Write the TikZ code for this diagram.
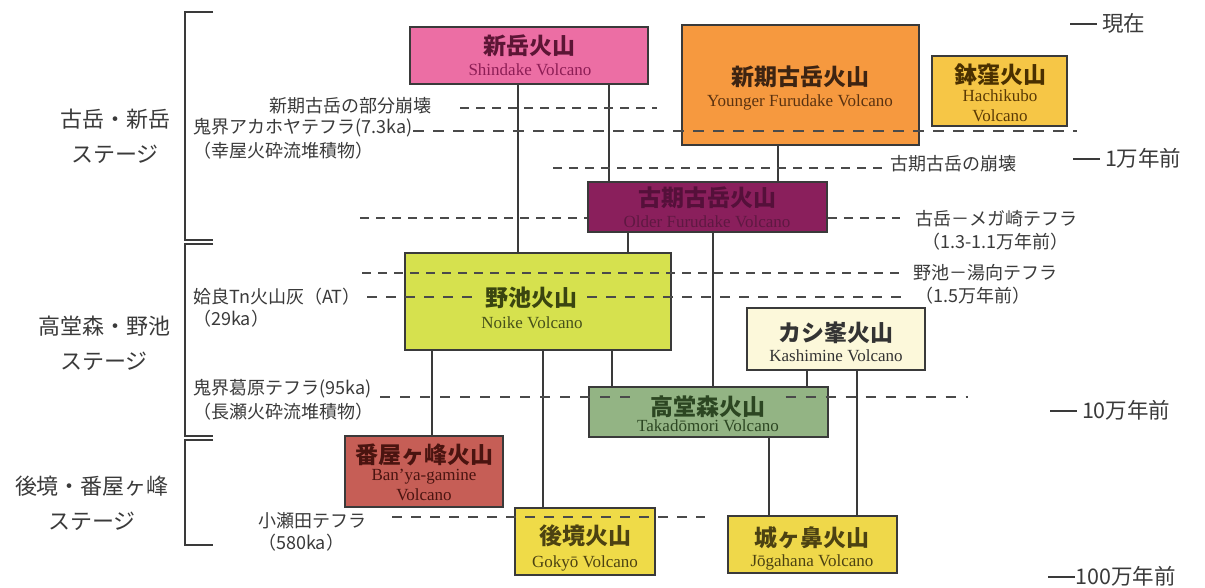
\documentclass[tikz,border=0pt]{standalone}
\usepackage{fontspec}
\setmainfont{Liberation Serif}
\newfontfamily\cjk{Noto Sans CJK JP}
\definecolor{ink}{HTML}{3A3A3A}
\definecolor{dashc}{HTML}{4A4A4A}
\definecolor{cshin}{HTML}{EC6EA4}
\definecolor{cyf}{HTML}{F6993F}
\definecolor{chachi}{HTML}{F6C646}
\definecolor{cof}{HTML}{8A1F5C}
\definecolor{cnoike}{HTML}{D6E14E}
\definecolor{ckashi}{HTML}{FCF8DA}
\definecolor{ctaka}{HTML}{93B484}
\definecolor{cbanya}{HTML}{C65E56}
\definecolor{cgokyo}{HTML}{EFDB48}
\definecolor{cjoga}{HTML}{EFD84A}
\definecolor{tshin}{HTML}{5C1535}
\definecolor{eshin}{HTML}{8D1D55}
\definecolor{tyf}{HTML}{3D2412}
\definecolor{eyf}{HTML}{5A3210}
\definecolor{thachi}{HTML}{4A3000}
\definecolor{ehachi}{HTML}{5A3A05}
\definecolor{tof}{HTML}{55103A}
\definecolor{eof}{HTML}{5F1842}
\definecolor{tnoike}{HTML}{3A4510}
\definecolor{enoike}{HTML}{46501A}
\definecolor{tkashi}{HTML}{333333}
\definecolor{ttaka}{HTML}{2C4622}
\definecolor{tbanya}{HTML}{4A1410}
\definecolor{tyel}{HTML}{4C4212}
\tikzset{
  box/.style={draw=ink, line width=1.5pt, rectangle, inner sep=0pt},
  ttl/.style={font=\cjk\bfseries\fontsize{23}{25}\selectfont, inner sep=0pt},
  en/.style={font=\fontsize{17}{19}\selectfont, inner sep=0pt},
  lab/.style={font=\cjk\fontsize{18}{21}\selectfont, text=ink, inner sep=0pt},
  tl/.style={font=\cjk\fontsize{21.5}{23}\selectfont, text=ink, inner sep=0pt, anchor=west},
  stage/.style={font=\cjk\fontsize{22}{35}\selectfont, text=ink, align=center, inner sep=0pt},
  conn/.style={draw=ink, line width=1.8pt},
  tephra/.style={draw=dashc, line width=1.8pt, dash pattern=on 9pt off 7pt},
  brk/.style={draw=ink, line width=1.6pt},
}
\newcommand\tdash{\rule[0.3em]{27pt}{1.7pt}}
\begin{document}
\begin{tikzpicture}[x=1pt,y=-1pt]
\fill[white] (0,0) rectangle (1205,587);
\useasboundingbox (0,0) rectangle (1205,587);

% stage brackets
\draw[brk] (213,12) -- (185,12) -- (185,240) -- (213,240);
\draw[brk] (213,244) -- (185,244) -- (185,436) -- (213,436);
\draw[brk] (213,440) -- (185,440) -- (185,545) -- (213,545);

% stage labels
\node[stage] (s1) at (115,136) {古岳・新岳\\ステージ};
\node[stage] (s2) at (104,343) {高堂森・野池\\ステージ};
\node[stage] (s3) at (92,503) {後境・番屋ヶ峰\\ステージ};

% boxes
\node[box, fill=cshin, minimum width=238pt, minimum height=57pt] (shin) at (529,55.5) {};
\node[box, fill=cyf, minimum width=237pt, minimum height=120pt] (yf) at (800.5,85) {};
\node[box, fill=chachi, minimum width=135pt, minimum height=70pt] (hachi) at (999.5,91) {};
\node[box, fill=cof, minimum width=239pt, minimum height=50pt] (of) at (707.5,207) {};
\node[box, fill=cnoike, minimum width=266pt, minimum height=97pt] (noike) at (538,301.5) {};
\node[box, fill=ckashi, minimum width=178pt, minimum height=62pt] (kashi) at (836,339) {};
\node[box, fill=ctaka, minimum width=239pt, minimum height=50pt] (taka) at (708.5,412) {};
\node[box, fill=cbanya, minimum width=158pt, minimum height=71pt] (banya) at (424,471.5) {};
\node[box, fill=cgokyo, minimum width=140pt, minimum height=67pt] (gokyo) at (585,541.5) {};
\node[box, fill=cjoga, minimum width=169pt, minimum height=57pt] (joga) at (812.5,544.5) {};

% box texts
\node[ttl, text=tshin] (shinT) at (529,46) {新岳火山};
\node[en, text=eshin] (shinE) at (530,70) {Shindake Volcano};
\node[ttl, text=tyf] (yfT) at (800,77) {新期古岳火山};
\node[en, text=eyf] (yfE) at (800,102) {Younger Furudake Volcano};
\node[ttl, text=thachi] (hachiT) at (1000,75) {鉢窪火山};
\node[en, text=ehachi, align=center, font=\fontsize{17}{20}\selectfont] (hachiE) at (1000,106) {Hachikubo\\Volcano};
\node[ttl, text=tof] (ofT) at (707,198) {古期古岳火山};
\node[en, text=eof] (ofE) at (707,222) {Older Furudake Volcano};
\node[ttl, text=tnoike, inner xsep=10pt] (noikeT) at (531,298) {野池火山};
\node[en, text=enoike] (noikeE) at (532,323) {Noike Volcano};
\node[ttl, text=tkashi] (kashiT) at (836,333) {カシ峯火山};
\node[en, text=tkashi] (kashiE) at (836,356) {Kashimine Volcano};
\node[ttl, text=ttaka, inner xsep=20pt] (takaT) at (708,407) {高堂森火山};
\node[en, text=ttaka] (takaE) at (708,426) {Takadōmori Volcano};
\node[ttl, text=tbanya] (banyaT) at (424,455) {番屋ヶ峰火山};
\node[en, text=tbanya, align=center, font=\fontsize{17}{19.5}\selectfont] (banyaE) at (424,485) {Ban’ya-gamine\\Volcano};
\node[ttl, text=tyel] (gokyoT) at (585,536) {後境火山};
\node[en, text=tyel] (gokyoE) at (585,563) {Gokyō Volcano};
\node[ttl, text=tyel] (jogaT) at (812,538) {城ヶ鼻火山};
\node[en, text=tyel] (jogaE) at (812,562) {Jōgahana Volcano};

% connectors
\draw[conn] (shin.south -| 518,0) -- (noike.north -| 518,0);
\draw[conn] (shin.south -| 609,0) -- (of.north -| 609,0);
\draw[conn] (yf.south -| 778,0) -- (of.north -| 778,0);
\draw[conn] (of.south -| 628,0) -- (noike.north -| 628,0);
\draw[conn] (of.south -| 713,0) -- (taka.north -| 713,0);
\draw[conn] (noike.south -| 432,0) -- (banya.north -| 432,0);
\draw[conn] (noike.south -| 543,0) -- (gokyo.north -| 543,0);
\draw[conn] (noike.south -| 612,0) -- (taka.north -| 612,0);
\draw[conn] (kashi.south -| 807,0) -- (taka.north -| 807,0);
\draw[conn] (kashi.south -| 857,0) -- (joga.north -| 857,0);
\draw[conn] (taka.south -| 769,0) -- (joga.north -| 769,0);

% event labels (left)
\node[lab, anchor=east] (l1) at (432,106) {新期古岳の部分崩壊};
\node[lab, anchor=west] (l2) at (193,128) {鬼界アカホヤテフラ(7.3ka)};
\node[lab, anchor=west] (l2b) at (193,151) {（幸屋火砕流堆積物）};
\node[lab, anchor=west] (l3) at (193,297) {姶良Tn火山灰（AT）};
\node[lab, anchor=west] (l3b) at (193,319) {（29ka）};
\node[lab, anchor=west] (l4) at (193,389) {鬼界葛原テフラ(95ka)};
\node[lab, anchor=west] (l4b) at (193,412) {（長瀬火砕流堆積物）};
\node[lab, anchor=west] (l5) at (258,521) {小瀬田テフラ};
\node[lab, anchor=west] (l5b) at (258,543) {（580ka）};

% event labels (right)
\node[lab, anchor=west] (r1) at (890,164) {古期古岳の崩壊};
\node[lab, anchor=west] (r2) at (915,219) {古岳－メガ崎テフラ};
\node[lab, anchor=west] (r2b) at (922,242) {（1.3-1.1万年前）};
\node[lab, anchor=west] (r3) at (913,273) {野池－湯向テフラ};
\node[lab, anchor=west] (r3b) at (915,296) {（1.5万年前）};

% time axis
\node[tl] (t0) at (1070,23) {\tdash\ 現在};
\node[tl] (t1) at (1073,158) {\tdash\ 1万年前};
\node[tl] (t2) at (1050,410) {\tdash\ 10万年前};
\node[tl] (t3) at (1048,576) {\tdash 100万年前};

% tephra / event dashed lines
\coordinate (d1a) at (460,108); \coordinate (d1b) at (657,108);
\coordinate (d2a) at (413,131); \coordinate (d2b) at (1077,131);
\coordinate (d3a) at (553,168); \coordinate (d3b) at (882,168);
\coordinate (d4a) at (360,218); \coordinate (d4b) at (900,218);
\coordinate (d5a) at (362,273); \coordinate (d5b) at (905,273);
\coordinate (d6a) at (367,297); \coordinate (d6b) at (910,297);
\coordinate (d7a) at (380,397); \coordinate (d7b) at (968,397);
\coordinate (d8a) at (392,517); \coordinate (d8b) at (705,517);
\draw[tephra] (d1a) -- (d1b);
\draw[tephra, dash pattern=on 11pt off 9pt] (d2a) -- (d2b);
\draw[tephra] (d3a) -- (d3b);
\draw[tephra] (d4a) -- (of.west |- d4a);
\draw[tephra] (of.east |- d4b) -- (d4b);
\draw[tephra] (d5a) -- (d5b);
\draw[tephra, dash pattern=on 10pt off 9pt] (d6a) -- (noikeT.west |- d6a);
\draw[tephra, dash pattern=on 10pt off 9pt] (noikeT.east |- d6b) -- (d6b);
\draw[tephra, dash pattern=on 10pt off 10pt] (d7a) -- (takaT.west |- d7a);
\draw[tephra, dash pattern=on 10pt off 10pt] (takaT.east |- d7b) -- (d7b);
\draw[tephra, dash pattern=on 10pt off 9pt] (d8a) -- (d8b);
\end{tikzpicture}
\end{document}
